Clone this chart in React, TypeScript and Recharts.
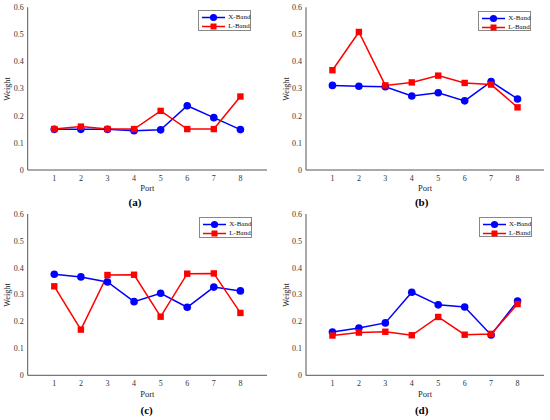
import * as React from "react";
import { LineChart, Line, XAxis, YAxis, Legend } from "recharts";

const ports = [1, 2, 3, 4, 5, 6, 7, 8];
const yTicks = [0, 0.1, 0.2, 0.3, 0.4, 0.5, 0.6];
const panelLabels = ["(a)", "(b)", "(c)", "(d)"];

const xBandA = [0.15, 0.15, 0.15, 0.145, 0.148, 0.237, 0.193, 0.149];
const lBandA = [0.151, 0.16, 0.151, 0.151, 0.218, 0.151, 0.151, 0.271];

const xBandB = [0.312, 0.309, 0.307, 0.273, 0.285, 0.255, 0.326, 0.262];
const lBandB = [0.368, 0.509, 0.312, 0.323, 0.348, 0.321, 0.315, 0.231];

const xBandC = [0.376, 0.366, 0.347, 0.274, 0.305, 0.253, 0.328, 0.314];
const lBandC = [0.331, 0.17, 0.373, 0.374, 0.218, 0.378, 0.379, 0.232];

const xBandD = [0.161, 0.176, 0.195, 0.309, 0.262, 0.254, 0.15, 0.276];
const lBandD = [0.148, 0.159, 0.162, 0.149, 0.217, 0.151, 0.154, 0.265];

const BLUE = "#0000ff";
const RED = "#ff0000";
const AXIS = "#555";
const FONT = '"Liberation Serif", "Times New Roman", serif';

const W = 275;
const H = 210;
const Y_AXIS_W = 20;
const X_AXIS_H = 30;

type Layout = {
  ox: number;
  oy: number;
  left: number;
  right: number;
  top: number;
  bottom: number;
  weightX: number;
  portY: number;
  labelX: number;
  labelY: number;
  legendX: number;
  legendY: number;
};

const layouts: Layout[] = [
  { ox: 0, oy: 0, left: 27.7, right: 267, top: 7.3, bottom: 170, weightX: 7, portY: 188, labelX: 135, labelY: 201.7, legendX: 198.3, legendY: 10 },
  { ox: 275, oy: 0, left: 31, right: 269, top: 7.3, bottom: 170, weightX: 11, portY: 188, labelX: 146.7, labelY: 201.7, legendX: 203.3, legendY: 10.5 },
  { ox: 0, oy: 210, left: 27.7, right: 267, top: 4, bottom: 165.3, weightX: 7, portY: 184.3, labelX: 146.7, labelY: 200, legendX: 199.3, legendY: 7.3 },
  { ox: 275, oy: 210, left: 31, right: 269, top: 4, bottom: 165.3, weightX: 11, portY: 184.3, labelX: 146.7, labelY: 200, legendX: 204, legendY: 6.7 },
];

const SquareDot = (props: any) => {
  const { cx, cy, index } = props;
  if (cx == null || cy == null) return null;
  return <rect key={index} x={cx - 3.2} y={cy - 3.2} width={6.4} height={6.4} fill={RED} />;
};

const BandLegend = () => {
  const rows = [
    { name: "X-Band", color: BLUE, shape: "circle" },
    { name: "L-Band", color: RED, shape: "square" },
  ];
  return (
    <div
      style={{
        width: 53,
        height: 20.5,
        border: "0.6px solid #888",
        background: "#fff",
        boxSizing: "border-box",
        position: "relative",
        fontFamily: FONT,
        fontSize: 7,
        color: "#111",
      }}
    >
      {rows.map((r, i) => (
        <div
          key={r.name}
          style={{
            position: "absolute",
            left: 0,
            top: 2 + i * 9,
            width: 60,
            height: 9,
            display: "flex",
            alignItems: "center",
            whiteSpace: "nowrap",
          }}
        >
          <svg width={28} height={9} style={{ display: "block", flex: "none" }}>
            <line x1={3} y1={4.5} x2={26} y2={4.5} stroke={r.color} strokeWidth={1.5} />
            {r.shape === "circle" ? (
              <circle cx={14.5} cy={4.5} r={3.6} fill={r.color} />
            ) : (
              <rect x={11.5} y={1.5} width={6} height={6} fill={r.color} />
            )}
          </svg>
          <span style={{ marginLeft: 1, lineHeight: "9px", whiteSpace: "nowrap" }}>{r.name}</span>
        </div>
      ))}
    </div>
  );
};

type PanelProps = { layout: Layout; xs: number[]; ls: number[]; label: string };

const Panel = ({ layout, xs, ls, label }: PanelProps) => {
  const data = ports.map((p, i) => ({ port: p, x: xs[i], l: ls[i] }));
  const tickStyle = { fontFamily: FONT, fontSize: 8, fill: "#333" };
  return (
    <div style={{ position: "absolute", left: layout.ox, top: layout.oy, width: W, height: H }}>
      <LineChart
        width={W}
        height={H}
        data={data}
        margin={{
          top: layout.top,
          right: W - layout.right,
          bottom: H - layout.bottom - X_AXIS_H,
          left: layout.left - Y_AXIS_W,
        }}
      >
        <XAxis
          dataKey="port"
          type="number"
          domain={[0, 9]}
          ticks={ports}
          height={X_AXIS_H}
          tickLine={false}
          tickSize={3}
          tickMargin={2}
          stroke={AXIS}
          tick={tickStyle}
        />
        <YAxis
          domain={[0, 0.6]}
          ticks={yTicks}
          width={Y_AXIS_W}
          tickLine={false}
          tickSize={2}
          tickMargin={2}
          stroke={AXIS}
          tick={tickStyle}
          tickFormatter={(v: number) => (v === 0 ? "0" : v.toFixed(1))}
        />
        <Legend
          layout="horizontal"
          verticalAlign="middle"
          content={<BandLegend />}
          wrapperStyle={{ position: "absolute", left: layout.legendX, top: layout.legendY, width: 53 }}
        />
        <Line
          dataKey="x"
          name="X-Band"
          stroke={BLUE}
          strokeWidth={1.5}
          dot={{ r: 3.8, fill: BLUE, stroke: BLUE, strokeWidth: 0 }}
          activeDot={false}
          isAnimationActive={false}
        />
        <Line
          dataKey="l"
          name="L-Band"
          stroke={RED}
          strokeWidth={1.5}
          dot={SquareDot}
          activeDot={false}
          isAnimationActive={false}
        />
      </LineChart>
      <div
        style={{
          position: "absolute",
          left: layout.weightX,
          top: (layout.top + layout.bottom) / 2,
          transform: "translate(-50%, -50%) rotate(-90deg)",
          fontFamily: FONT,
          fontSize: 8.2,
          color: "#222",
          whiteSpace: "nowrap",
        }}
      >
        Weight
      </div>
      <div
        style={{
          position: "absolute",
          left: (layout.left + layout.right) / 2,
          top: layout.portY,
          transform: "translate(-50%, -50%)",
          fontFamily: FONT,
          fontSize: 8.5,
          color: "#222",
        }}
      >
        Port
      </div>
      <div
        style={{
          position: "absolute",
          left: layout.labelX,
          top: layout.labelY,
          transform: "translate(-50%, -50%)",
          fontFamily: FONT,
          fontSize: 11,
          fontWeight: "bold",
          color: "#000",
        }}
      >
        {label}
      </div>
    </div>
  );
};

export default function App() {
  const series = [
    [xBandA, lBandA],
    [xBandB, lBandB],
    [xBandC, lBandC],
    [xBandD, lBandD],
  ];
  return (
    <div style={{ position: "absolute", left: 0, top: 0, width: 550, height: 420, background: "#fff" }}>
      {layouts.map((layout, i) => (
        <Panel key={i} layout={layout} xs={series[i][0]} ls={series[i][1]} label={panelLabels[i]} />
      ))}
    </div>
  );
}
